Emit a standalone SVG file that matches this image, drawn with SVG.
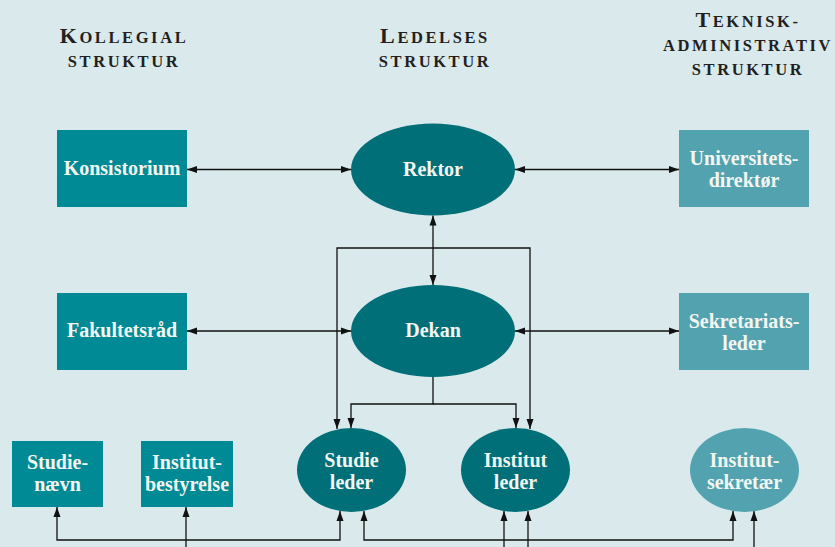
<svg xmlns="http://www.w3.org/2000/svg" width="835" height="547" viewBox="0 0 835 547">
<style>
.hd{font-family:"Liberation Serif","Times New Roman",serif;font-weight:bold;fill:#231f20;text-anchor:middle;letter-spacing:2.6px}
.hd .b{font-size:22px}
.hd .s{font-size:16.5px}
.t{font-family:"Liberation Serif","Times New Roman",serif;font-weight:bold;font-size:20px;fill:#f4f6f2;text-anchor:middle}
.r1{fill:#008a95}
.r2{fill:#52a3af}
.e1{fill:#006f78}
.e2{fill:#52a3af}
.c{fill:none;stroke:#111;stroke-width:1.3}
</style>
<defs>
<marker id="a" markerUnits="userSpaceOnUse" markerWidth="10" markerHeight="8" refX="10" refY="3.5" orient="auto-start-reverse" viewBox="0 0 10 7">
<path d="M0,0 L10,3.5 L0,7 z" fill="#111"/>
</marker>
</defs>
<rect width="835" height="547" fill="#dae9ec"/>

<g id="headings">
<text class="hd" x="124" y="43"><tspan class="b">K</tspan><tspan class="s">OLLEGIAL</tspan></text>
<text class="hd" x="124" y="67"><tspan class="s">STRUKTUR</tspan></text>
<text class="hd" x="435" y="43"><tspan class="b">L</tspan><tspan class="s">EDELSES</tspan></text>
<text class="hd" x="435" y="67"><tspan class="s">STRUKTUR</tspan></text>
<text class="hd" x="748" y="27"><tspan class="b">T</tspan><tspan class="s">EKNISK-</tspan></text>
<text class="hd" x="748" y="51"><tspan class="s">ADMINISTRATIV</tspan></text>
<text class="hd" x="748" y="75"><tspan class="s">STRUKTUR</tspan></text>
</g>

<g id="connectors">
<path class="c" d="M187,169.5 H351" marker-start="url(#a)" marker-end="url(#a)"/>
<path class="c" d="M515,169.5 H679" marker-start="url(#a)" marker-end="url(#a)"/>
<path class="c" d="M433,215.5 V285" marker-start="url(#a)" marker-end="url(#a)"/>
<path class="c" d="M433,248 H337 V429" marker-end="url(#a)"/>
<path class="c" d="M433,248 H530 V429" marker-end="url(#a)"/>
<path class="c" d="M433,377 V404 H351 V428" marker-end="url(#a)"/>
<path class="c" d="M433,404 H516 V428" marker-end="url(#a)"/>
<path class="c" d="M187,331 H351" marker-start="url(#a)" marker-end="url(#a)"/>
<path class="c" d="M515,331 H679" marker-start="url(#a)" marker-end="url(#a)"/>
<path class="c" d="M57,507 V540 H340 V511" marker-start="url(#a)" marker-end="url(#a)"/>
<path class="c" d="M186,548 V507" marker-end="url(#a)"/>
<path class="c" d="M364,511 V540 H733 V511" marker-start="url(#a)" marker-end="url(#a)"/>
<path class="c" d="M504,548 V511" marker-end="url(#a)"/>
<path class="c" d="M528,548 V511" marker-end="url(#a)"/>
<path class="c" d="M754,548 V511" marker-end="url(#a)"/>
</g>

<g id="konsistorium">
<rect class="r1" x="57" y="130" width="130" height="77"/>
<text class="t" x="122" y="175">Konsistorium</text>
</g>
<g id="rektor">
<ellipse class="e1" cx="433" cy="169.5" rx="82" ry="46"/>
<text class="t" x="433" y="176">Rektor</text>
</g>
<g id="universitetsdirektor">
<rect class="r2" x="679" y="130" width="130" height="77"/>
<text class="t" x="744" y="165">Universitets-</text>
<text class="t" x="744" y="187">direktør</text>
</g>
<g id="fakultetsraad">
<rect class="r1" x="57" y="293" width="130" height="77"/>
<text class="t" x="122" y="337">Fakultetsråd</text>
</g>
<g id="dekan">
<ellipse class="e1" cx="433" cy="331" rx="82" ry="46"/>
<text class="t" x="433" y="337">Dekan</text>
</g>
<g id="sekretariatsleder">
<rect class="r2" x="679" y="293" width="130" height="77"/>
<text class="t" x="744" y="328">Sekretariats-</text>
<text class="t" x="744" y="350">leder</text>
</g>
<g id="studienaevn">
<rect class="r1" x="12" y="441" width="91" height="66"/>
<text class="t" x="57.5" y="469">Studie-</text>
<text class="t" x="57.5" y="491">nævn</text>
</g>
<g id="institutbestyrelse">
<rect class="r1" x="141" y="441" width="92" height="66"/>
<text class="t" x="187" y="469">Institut-</text>
<text class="t" x="187" y="491">bestyrelse</text>
</g>
<g id="studieleder">
<ellipse class="e1" cx="351.5" cy="470" rx="54.5" ry="42"/>
<text class="t" x="351.5" y="467">Studie</text>
<text class="t" x="351.5" y="489">leder</text>
</g>
<g id="institutleder">
<ellipse class="e1" cx="515.5" cy="470" rx="54.5" ry="42"/>
<text class="t" x="515.5" y="467">Institut</text>
<text class="t" x="515.5" y="489">leder</text>
</g>
<g id="institutsekretaer">
<ellipse class="e2" cx="744.5" cy="470" rx="54.5" ry="42"/>
<text class="t" x="744.5" y="467">Institut-</text>
<text class="t" x="744.5" y="489">sekretær</text>
</g>
</svg>
